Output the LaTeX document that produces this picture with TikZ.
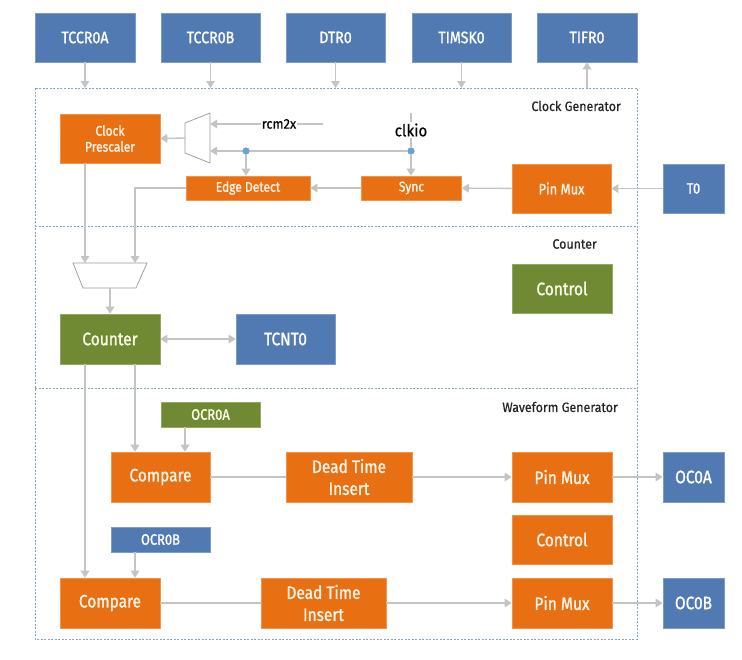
\documentclass[tikz,border=0pt]{standalone}
\usepackage{fontspec}
\setmainfont{Fira Sans}
\newfontfamily\boxfont{Fira Sans}[FakeStretch=0.86, FakeBold=1.2]
\newfontfamily\lblfont{Fira Sans}[FakeStretch=0.92, FakeBold=0.4]
\usetikzlibrary{arrows.meta}
\definecolor{cblue}{HTML}{527AB2}
\definecolor{corange}{HTML}{E87012}
\definecolor{cgreen}{HTML}{708A34}
\definecolor{cline}{HTML}{C4C4C4}
\definecolor{cdash}{HTML}{86A6BF}
\definecolor{cdot}{HTML}{6AA3CE}
\newcommand\fsTop{\boxfont\fontsize{16.5}{19}\selectfont}
\newcommand\fsBig{\boxfont\fontsize{18}{22}\selectfont}
\newcommand\fsMid{\boxfont\fontsize{15}{18}\selectfont}
\newcommand\fsSmall{\boxfont\fontsize{14}{16}\selectfont}
\begin{document}
\begin{tikzpicture}[x=1pt,y=-1pt,
  box/.style={draw=#1!75!white, fill=#1, line width=0.6pt, text=white, inner sep=0pt, align=center},
  blbox/.style={box=cblue},
  orbox/.style={box=corange, text=orange!8!white},
  grbox/.style={box=cgreen, text=green!10!yellow!8!white},
  sz/.style 2 args={minimum width=#1pt, minimum height=#2pt},
  wire/.style={draw=cline, line width=1.4pt},
  arr/.style={wire, -{Triangle[length=7pt,width=8.5pt]}},
  darr/.style={wire, {Triangle[length=7pt,width=8.5pt]}-{Triangle[length=7pt,width=8.5pt]}},
  frame/.style={draw=cdash, line width=0.8pt, dash pattern=on 2pt off 1.5pt},
  lbl/.style={font=\lblfont\fontsize{13.5}{15}\selectfont, text=black!85, anchor=east, inner sep=0pt},
  dotn/.style={circle, fill=cdot, inner sep=0pt, minimum size=7pt},
  muxs/.style={draw=black!40, line width=0.7pt, fill=white},
]
\useasboundingbox (0,0) rectangle (742,659);
\fill[white] (0,0) rectangle (742,659);

% frames
\draw[frame] (35,88) rectangle (637,639);
\draw[frame] (35,226) -- (637,226);
\draw[frame] (35,388) -- (637,388);
\node[lbl] (lclk) at (621,106) {Clock Generator};
\node[lbl] (lcnt) at (597,244) {Counter};
\node[lbl] (lwav) at (618,407) {Waveform Generator};

% top registers
\node[blbox, sz={100}{49}, font=\fsTop] (tccra) at (85,37.5) {TCCR0A};
\node[blbox, sz={99}{49}, font=\fsTop] (tccrb) at (210.5,37.5) {TCCR0B};
\node[blbox, sz={99}{49}, font=\fsTop] (dtr) at (335.5,37.5) {DTR0};
\node[blbox, sz={99}{49}, font=\fsTop] (timsk) at (461.5,37.5) {TIMSK0};
\node[blbox, sz={100}{49}, font=\fsTop] (tifr) at (587,37.5) {TIFR0};
\coordinate (ta) at (85,88);
\coordinate (tb) at (210.5,88);
\coordinate (td) at (335.5,88);
\coordinate (tm) at (461.5,88);
\coordinate (tf) at (587,88);
\draw[arr] (tccra) -- (ta);
\draw[arr] (tccrb) -- (tb);
\draw[arr] (dtr) -- (td);
\draw[arr] (timsk) -- (tm);
\draw[arr] (tf) -- (tifr);

% clock generator
\node[orbox, sz={100}{49}, font=\fsSmall] (presc) at (110,138.5) {Clock\\Prescaler};
\draw[muxs] (210,113) -- (210,163) -- (185,153) -- (185,123) -- cycle;
\coordinate (m1out) at (185,138);
\coordinate (m1a) at (210,124);
\coordinate (m1b) at (210,151);
\draw[arr] (m1out) -- (presc.east);
\coordinate (rcmstart) at (323,124);
\draw[arr] (rcmstart) -- (m1a);
\node[fill=white, inner sep=1pt, font=\lblfont\fontsize{14}{16}\selectfont] (rcm) at (279,124) {rcm2x};

\node[orbox, sz={124}{24}, font=\fsSmall] (edge) at (248,188) {Edge Detect};
\node[orbox, sz={100}{24}, font=\fsSmall] (sync) at (411.5,188) {Sync};
\node[orbox, sz={99}{49}, font=\fsMid] (pmc) at (561.5,188.5) {Pin Mux};
\node[blbox, sz={61}{49}, font=\fsMid] (t0) at (693.5,188.5) {T0};

\coordinate (clktop) at (411,113);
\node[dotn] (d2) at (411,151) {};
\node[dotn] (d1) at (246,151) {};
\draw[wire] (clktop) -- (d2);
\node[fill=white, inner sep=1pt, font=\lblfont\fontsize{16.5}{18}\selectfont] (clkio) at (411,130) {clkio};
\draw[arr] (d2) -- (m1b);
\draw[arr] (d1) -- (d1 |- edge.north);
\draw[arr] (d2) -- (d2 |- sync.north);
\node[dotn] at (d1) {};
\node[dotn] at (d2) {};

\draw[arr] (t0) -- (pmc);
\draw[arr] (pmc) -- (sync);
\draw[arr] (sync) -- (edge);

% counter mux
\draw[muxs] (73,263) -- (147,263) -- (136,288) -- (83,288) -- cycle;
\coordinate (m2a) at (85,263);
\coordinate (m2b) at (135,263);
\coordinate (m2out) at (110,288);
\coordinate (ecorner) at (135,188);
\draw[arr] (presc.south -| m2a) -- (m2a);
\draw[arr] (edge.west) -- (ecorner) -- (m2b);

% counter
\node[grbox, sz={100}{50}, font=\fsBig] (counter) at (110,339) {Counter};
\node[blbox, sz={99}{50}, font=\fsBig] (tcnt) at (285.5,339) {TCNT0};
\node[grbox, sz={100}{49}, font=\fsBig] (ctl1) at (562,288.5) {Control};
\draw[arr] (m2out) -- (counter);
\draw[darr] (counter) -- (tcnt);

% waveform generator
\node[grbox, sz={99}{25}, font=\fsMid] (ocra) at (210.5,414.5) {OCR0A};
\node[orbox, sz={99}{50}, font=\fsBig] (cmpa) at (160.5,477) {Compare};
\node[orbox, sz={126}{50}, font=\fsBig] (dta) at (349,477) {Dead Time\\Insert};
\node[orbox, sz={100}{50}, font=\fsBig] (pma) at (562,477) {Pin Mux};
\node[blbox, sz={61}{50}, font=\fsBig] (oca) at (693.5,477) {OC0A};
\node[orbox, sz={100}{49}, font=\fsBig] (ctl2) at (562,539.5) {Control};
\node[blbox, sz={99}{25}, font=\fsMid] (ocrb) at (160.5,539.5) {OCR0B};
\node[orbox, sz={100}{50}, font=\fsBig] (cmpb) at (110,603) {Compare};
\node[orbox, sz={125}{50}, font=\fsBig] (dtb) at (323.5,603) {Dead Time\\Insert};
\node[orbox, sz={100}{50}, font=\fsBig] (pmb) at (562,603) {Pin Mux};
\node[blbox, sz={61}{50}, font=\fsBig] (ocb) at (693.5,603) {OC0B};

\draw[arr] (counter.south -| 135,0) -- (cmpa.north -| 135,0);
\draw[arr] (counter.south -| 85,0) -- (cmpb.north -| 85,0);
\draw[arr] (ocra.south -| 185,0) -- (cmpa.north -| 185,0);
\draw[arr] (ocrb.south -| 135,0) -- (cmpb.north -| 135,0);
\draw[wire] (cmpa) -- (dta);
\draw[arr] (dta) -- (pma);
\draw[arr] (pma) -- (oca);
\draw[wire] (cmpb) -- (dtb);
\draw[arr] (dtb) -- (pmb);
\draw[arr] (pmb) -- (ocb);
\end{tikzpicture}
\end{document}
